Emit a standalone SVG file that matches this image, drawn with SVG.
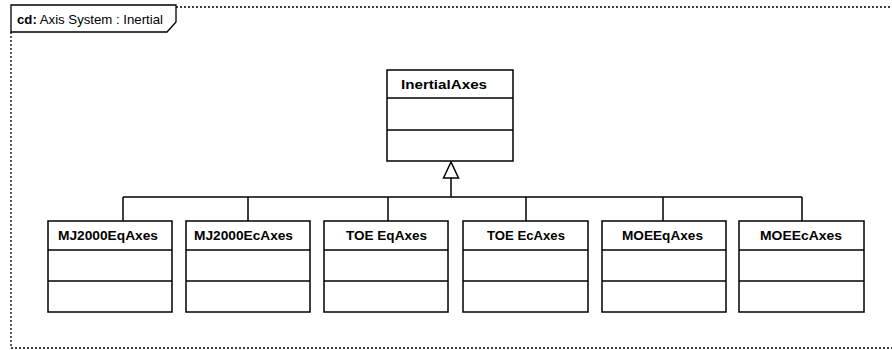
<svg xmlns="http://www.w3.org/2000/svg" width="892" height="350" viewBox="0 0 892 350">
<style>
.box{fill:#fff;stroke:#000;stroke-width:1.5}
.sep{stroke:#000;stroke-width:1.5}
.name{font-family:"Liberation Sans",Arial,sans-serif;font-weight:bold;font-size:13px;text-anchor:middle;fill:#000}
.frame{fill:none;stroke:#000;stroke-width:1.3;stroke-dasharray:2,2}
.conn{fill:none;stroke:#000;stroke-width:1.5}
</style>
<rect width="892" height="350" fill="#fff"/>
<g id="frame">
<path class="frame" d="M176,7 H896 M11,32 V348 H896"/>
<path d="M11,5 H176 V22 L167,32 H11 Z" fill="#fff" stroke="#000" stroke-width="1.3"/>
<text x="17" y="24" font-family="Liberation Sans,Arial,sans-serif" font-size="13" textLength="146" lengthAdjust="spacingAndGlyphs"><tspan font-weight="bold">cd:</tspan> Axis System : Inertial</text>
</g>
<g id="connectors">
<path class="conn" d="M451,178 V197 M123,197 H802 M123,197 V221 M248,197 V221 M388,197 V221 M526,197 V221 M663,197 V221 M802,197 V221"/>
<path d="M451,162 L443.5,178 H458.5 Z" fill="#fff" stroke="#000" stroke-width="1.5"/>
</g>
<g id="InertialAxes">
<rect class="box" x="387" y="70" width="126" height="91"/>
<line class="sep" x1="387" y1="98" x2="513" y2="98"/>
<line class="sep" x1="387" y1="130" x2="513" y2="130"/>
<text class="name" x="444" y="89" textLength="86" lengthAdjust="spacingAndGlyphs">InertialAxes</text>
</g>
<g id="MJ2000EqAxes">
<rect class="box" x="48" y="221" width="124" height="91"/>
<line class="sep" x1="48" y1="250" x2="172" y2="250"/>
<line class="sep" x1="48" y1="281" x2="172" y2="281"/>
<text class="name" x="108" y="240" textLength="100" lengthAdjust="spacingAndGlyphs">MJ2000EqAxes</text>
</g>
<g id="MJ2000EcAxes">
<rect class="box" x="186" y="221" width="124" height="91"/>
<line class="sep" x1="186" y1="250" x2="310" y2="250"/>
<line class="sep" x1="186" y1="281" x2="310" y2="281"/>
<text class="name" x="243.5" y="240" textLength="99" lengthAdjust="spacingAndGlyphs">MJ2000EcAxes</text>
</g>
<g id="TOEEqAxes">
<rect class="box" x="324" y="221" width="124" height="91"/>
<line class="sep" x1="324" y1="250" x2="448" y2="250"/>
<line class="sep" x1="324" y1="281" x2="448" y2="281"/>
<text class="name" x="386.5" y="240" textLength="81" lengthAdjust="spacingAndGlyphs">TOE EqAxes</text>
</g>
<g id="TOEEcAxes">
<rect class="box" x="463" y="221" width="125" height="91"/>
<line class="sep" x1="463" y1="250" x2="588" y2="250"/>
<line class="sep" x1="463" y1="281" x2="588" y2="281"/>
<text class="name" x="526" y="240" textLength="78" lengthAdjust="spacingAndGlyphs">TOE EcAxes</text>
</g>
<g id="MOEEqAxes">
<rect class="box" x="602" y="221" width="124" height="91"/>
<line class="sep" x1="602" y1="250" x2="726" y2="250"/>
<line class="sep" x1="602" y1="281" x2="726" y2="281"/>
<text class="name" x="662.5" y="240" textLength="81" lengthAdjust="spacingAndGlyphs">MOEEqAxes</text>
</g>
<g id="MOEEcAxes">
<rect class="box" x="739" y="221" width="125" height="91"/>
<line class="sep" x1="739" y1="250" x2="864" y2="250"/>
<line class="sep" x1="739" y1="281" x2="864" y2="281"/>
<text class="name" x="801" y="240" textLength="82" lengthAdjust="spacingAndGlyphs">MOEEcAxes</text>
</g>
</svg>
